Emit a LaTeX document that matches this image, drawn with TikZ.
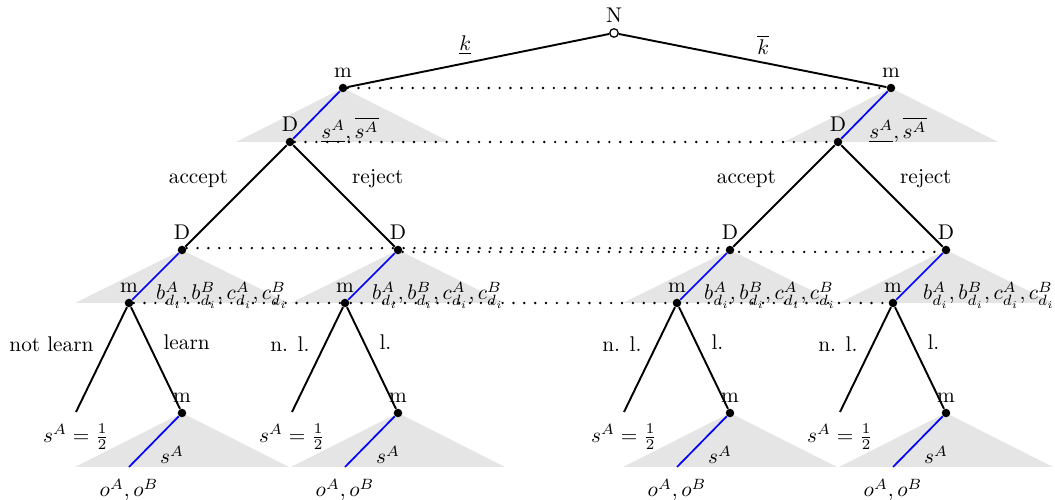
\documentclass[tikz,border=0pt]{standalone}
\usepackage{tikz}
\usetikzlibrary{positioning,backgrounds}
\tikzset{
  chance/.style={circle, draw=black, fill=white, line width=0.6pt, inner sep=0pt, minimum size=4pt},
  player/.style={circle, fill=black, inner sep=0pt, minimum size=4pt},
  move/.style={line width=0.9pt, draw=black},
  choice/.style={line width=0.8pt, draw=blue},
  info/.style={line width=1.25pt, line cap=round, dash pattern=on 0pt off 5.1pt},
  cone/.style={fill=black!10}
}

\begin{document}
\begin{tikzpicture}[x=0.47pt, y=-0.47pt, label distance=-1pt]
  \useasboundingbox (0,0) rectangle (1055,500);

  \node[chance, label=above:N] (n) at (614,33) {};
  \node[player, label=above:m] (ma) at (343,88) {};
  \node[player, label=above:m] (mb) at (891,88) {};
  \node[player, label=above:D] (da) at (290,142) {};
  \node[player, label=above:D] (db) at (838,142) {};
  \node[player, label=above:D] (daa) at (182,250) {};
  \node[player, label=above:D] (dar) at (398,250) {};
  \node[player, label=above:D] (dba) at (730,250) {};
  \node[player, label=above:D] (dbr) at (946,250) {};
  \node[player, label=above:m] (maa) at (129,303) {};
  \node[player, label=above:m] (mar) at (345,303) {};
  \node[player, label=above:m] (mba) at (677,303) {};
  \node[player, label=above:m] (mbr) at (893,303) {};
  \node[player, label=above:m] (la) at (182,413) {};
  \node[player, label=above:m] (lb) at (398,413) {};
  \node[player, label=above:m] (lc) at (730,413) {};
  \node[player, label=above:m] (ld) at (946,413) {};
  \coordinate (xa) at (76,412);
  \coordinate (xb) at (292,412);
  \coordinate (xc) at (624,412);
  \coordinate (xd) at (840,412);
  \coordinate (oa) at (129,467);
  \coordinate (ob) at (345,467);
  \coordinate (oc) at (677,467);
  \coordinate (od) at (893,467);

  \begin{scope}[on background layer]
    \fill[cone] (ma.center) -- ++(-107,54) -- ++(214,0) -- cycle;
    \fill[cone] (mb.center) -- ++(-107,54) -- ++(214,0) -- cycle;
    \fill[cone] (daa.center) -- ++(-107,53) -- ++(214,0) -- cycle;
    \fill[cone] (dar.center) -- ++(-107,53) -- ++(214,0) -- cycle;
    \fill[cone] (dba.center) -- ++(-107,53) -- ++(214,0) -- cycle;
    \fill[cone] (dbr.center) -- ++(-107,53) -- ++(214,0) -- cycle;
    \fill[cone] (la.center) -- ++(-107,54) -- ++(214,0) -- cycle;
    \fill[cone] (lb.center) -- ++(-107,54) -- ++(214,0) -- cycle;
    \fill[cone] (lc.center) -- ++(-107,54) -- ++(214,0) -- cycle;
    \fill[cone] (ld.center) -- ++(-107,54) -- ++(214,0) -- cycle;
  \end{scope}

  \draw[move] (n) -- node[above, pos=0.55] {$\underline{k}$} (ma);
  \draw[move] (n) -- node[above, pos=0.54] {$\overline{k}$} (mb);
  \draw[choice] (ma) -- (da);
  \draw[choice] (mb) -- (db);

  \draw[move] (da) -- node[above left] {accept} (daa);
  \draw[move] (da) -- node[above right] {reject} (dar);
  \draw[move] (db) -- node[above left] {accept} (dba);
  \draw[move] (db) -- node[above right] {reject} (dbr);

  \draw[choice] (daa) -- (maa);
  \draw[choice] (dar) -- (mar);
  \draw[choice] (dba) -- (mba);
  \draw[choice] (dbr) -- (mbr);

  \draw[move] (maa) -- node[above left] {not learn} (xa);
  \draw[move] (maa) -- node[above right] {learn} (la);
  \draw[move] (mar) -- node[above left] {n. l.} (xb);
  \draw[move] (mar) -- node[above right] {l.} (lb);
  \draw[move] (mba) -- node[above left] {n. l.} (xc);
  \draw[move] (mba) -- node[above right] {l.} (lc);
  \draw[move] (mbr) -- node[above left] {n. l.} (xd);
  \draw[move] (mbr) -- node[above right] {l.} (ld);

  \draw[choice] (la) -- (oa);
  \draw[choice] (lb) -- (ob);
  \draw[choice] (lc) -- (oc);
  \draw[choice] (ld) -- (od);

  \draw[info] (ma) -- (mb);
  \draw[info] (da) -- (db);
  \draw[info, transform canvas={yshift=0.9pt}] (daa) -- (dba);
  \draw[info, transform canvas={yshift=-0.9pt}] (dar) -- (dbr);
  \draw[info] (maa) -- (mbr);

  \node (sa) at ([shift={(60,-12)}]da) {$\underline{s^A}, \overline{s^A}$};
  \node (sb) at ([shift={(60,-12)}]db) {$\underline{s^A}, \overline{s^A}$};

  \node (baa) at ([shift={(93,-8)}]maa) {$b^A_{d_i}, b^B_{d_i}, c^A_{d_i}, c^B_{d_i}$};
  \node (bar) at ([shift={(93,-8)}]mar) {$b^A_{d_i}, b^B_{d_i}, c^A_{d_i}, c^B_{d_i}$};
  \node (bba) at ([shift={(93,-8)}]mba) {$b^A_{d_i}, b^B_{d_i}, c^A_{d_i}, c^B_{d_i}$};
  \node (bbr) at ([shift={(96,-8)}]mbr) {$b^A_{d_i}, b^B_{d_i}, c^A_{d_i}, c^B_{d_i}$};

  \node (ha) at ([shift={(0,25)}]xa) {$s^A = \frac{1}{2}$};
  \node (hb) at ([shift={(0,25)}]xb) {$s^A = \frac{1}{2}$};
  \node (hc) at ([shift={(0,25)}]xc) {$s^A = \frac{1}{2}$};
  \node (hd) at ([shift={(0,25)}]xd) {$s^A = \frac{1}{2}$};

  \node (ta) at ([shift={(-10,42)}]la) {$s^A$};
  \node (tb) at ([shift={(-10,42)}]lb) {$s^A$};
  \node (tc) at ([shift={(-10,42)}]lc) {$s^A$};
  \node (td) at ([shift={(-10,42)}]ld) {$s^A$};

  \node (pa) at ([shift={(0,23)}]oa) {$o^A, o^B$};
  \node (pb) at ([shift={(0,23)}]ob) {$o^A, o^B$};
  \node (pc) at ([shift={(0,23)}]oc) {$o^A, o^B$};
  \node (pd) at ([shift={(0,23)}]od) {$o^A, o^B$};
\end{tikzpicture}
\end{document}
